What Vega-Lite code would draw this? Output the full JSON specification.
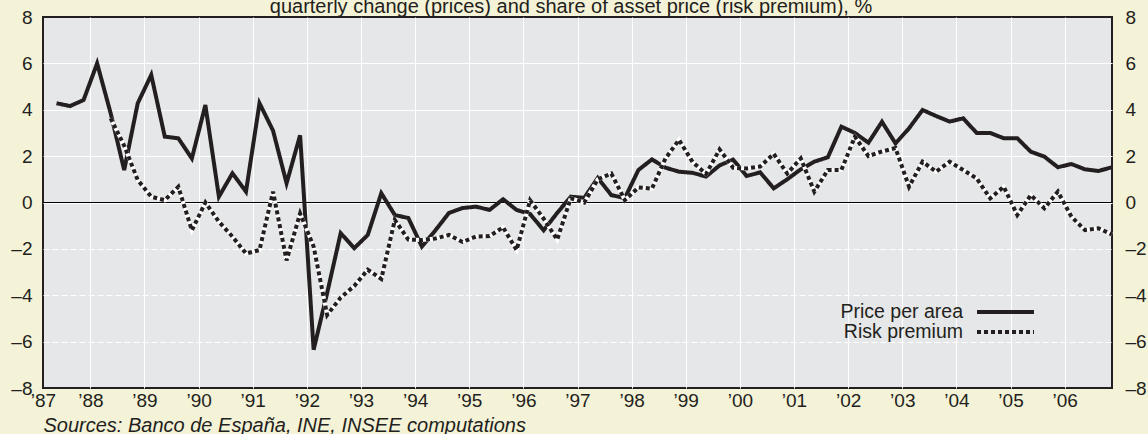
{
  "$schema": "https://vega.github.io/schema/vega-lite/v6.json",
  "width": 1069,
  "height": 371,
  "autosize": {"type": "none"},
  "padding": {"left": 43, "top": 17, "right": 36, "bottom": 46},
  "background": "#F4F2D7",
  "config": {
    "view": {"fill": "#E6E7E8", "stroke": "#231F20", "strokeWidth": 2},
    "font": "Liberation Sans",
    "axis": {"labelFont": "Liberation Sans", "labelColor": "#231F20", "labelFontSize": 19, "titleFont": "Liberation Sans", "titleColor": "#231F20"},
    "legend": {"labelFont": "Liberation Sans"}
  },
  "data": {
    "values": [
      {"t": 1987.375, "price": 4.28, "risk": null},
      {"t": 1987.625, "price": 4.16, "risk": null},
      {"t": 1987.875, "price": 4.42, "risk": null},
      {"t": 1988.125, "price": 6.0, "risk": null},
      {"t": 1988.375, "price": 3.85, "risk": 3.63},
      {"t": 1988.625, "price": 1.4, "risk": 2.45},
      {"t": 1988.875, "price": 4.28, "risk": 0.97},
      {"t": 1989.125, "price": 5.5, "risk": 0.25},
      {"t": 1989.375, "price": 2.84, "risk": 0.1},
      {"t": 1989.625, "price": 2.77, "risk": 0.68},
      {"t": 1989.875, "price": 1.9, "risk": -1.2},
      {"t": 1990.125, "price": 4.2, "risk": 0.0},
      {"t": 1990.375, "price": 0.25, "risk": -0.83},
      {"t": 1990.625, "price": 1.26, "risk": -1.47},
      {"t": 1990.875, "price": 0.47, "risk": -2.2},
      {"t": 1991.125, "price": 4.28, "risk": -2.05},
      {"t": 1991.375, "price": 3.1, "risk": 0.47},
      {"t": 1991.625, "price": 0.83, "risk": -2.5},
      {"t": 1991.875, "price": 2.9, "risk": -0.47},
      {"t": 1992.125, "price": -6.35, "risk": -1.9},
      {"t": 1992.375, "price": -3.9, "risk": -4.85},
      {"t": 1992.625, "price": -1.32, "risk": -4.1},
      {"t": 1992.875, "price": -1.97, "risk": -3.6},
      {"t": 1993.125, "price": -1.4, "risk": -2.9},
      {"t": 1993.375, "price": 0.4, "risk": -3.3},
      {"t": 1993.625, "price": -0.54, "risk": -0.75},
      {"t": 1993.875, "price": -0.67, "risk": -1.6},
      {"t": 1994.125, "price": -1.9, "risk": -1.62},
      {"t": 1994.375, "price": -1.2, "risk": -1.55},
      {"t": 1994.625, "price": -0.45, "risk": -1.4},
      {"t": 1994.875, "price": -0.24, "risk": -1.7},
      {"t": 1995.125, "price": -0.18, "risk": -1.47},
      {"t": 1995.375, "price": -0.32, "risk": -1.45},
      {"t": 1995.625, "price": 0.14, "risk": -1.07},
      {"t": 1995.875, "price": -0.32, "risk": -2.05},
      {"t": 1996.125, "price": -0.5, "risk": 0.1},
      {"t": 1996.375, "price": -1.2, "risk": -0.7},
      {"t": 1996.625, "price": -0.45, "risk": -1.6},
      {"t": 1996.875, "price": 0.25, "risk": 0.18},
      {"t": 1997.125, "price": 0.2, "risk": 0.0},
      {"t": 1997.375, "price": 1.06, "risk": 1.0},
      {"t": 1997.625, "price": 0.32, "risk": 1.25},
      {"t": 1997.875, "price": 0.19, "risk": 0.1},
      {"t": 1998.125, "price": 1.4, "risk": 0.65},
      {"t": 1998.375, "price": 1.86, "risk": 0.6},
      {"t": 1998.625, "price": 1.5, "risk": 1.9},
      {"t": 1998.875, "price": 1.33, "risk": 2.7},
      {"t": 1999.125, "price": 1.28, "risk": 1.75},
      {"t": 1999.375, "price": 1.12, "risk": 1.23},
      {"t": 1999.625, "price": 1.6, "risk": 2.29},
      {"t": 1999.875, "price": 1.85, "risk": 1.5},
      {"t": 2000.125, "price": 1.14, "risk": 1.47},
      {"t": 2000.375, "price": 1.3, "risk": 1.55},
      {"t": 2000.625, "price": 0.61, "risk": 2.1},
      {"t": 2000.875, "price": 1.0, "risk": 1.25},
      {"t": 2001.125, "price": 1.43, "risk": 1.9},
      {"t": 2001.375, "price": 1.76, "risk": 0.47},
      {"t": 2001.625, "price": 1.95, "risk": 1.4},
      {"t": 2001.875, "price": 3.27, "risk": 1.4},
      {"t": 2002.125, "price": 3.0, "risk": 2.84},
      {"t": 2002.375, "price": 2.58, "risk": 2.0},
      {"t": 2002.625, "price": 3.48, "risk": 2.2},
      {"t": 2002.875, "price": 2.55, "risk": 2.35},
      {"t": 2003.125, "price": 3.2, "risk": 0.68},
      {"t": 2003.375, "price": 3.99, "risk": 1.76},
      {"t": 2003.625, "price": 3.73, "risk": 1.33},
      {"t": 2003.875, "price": 3.49, "risk": 1.76},
      {"t": 2004.125, "price": 3.63, "risk": 1.4},
      {"t": 2004.375, "price": 3.0, "risk": 1.04},
      {"t": 2004.625, "price": 3.0, "risk": 0.18},
      {"t": 2004.875, "price": 2.77, "risk": 0.68},
      {"t": 2005.125, "price": 2.77, "risk": -0.54},
      {"t": 2005.375, "price": 2.19, "risk": 0.32},
      {"t": 2005.625, "price": 1.98, "risk": -0.25},
      {"t": 2005.875, "price": 1.52, "risk": 0.47},
      {"t": 2006.125, "price": 1.66, "risk": -0.61},
      {"t": 2006.375, "price": 1.43, "risk": -1.19},
      {"t": 2006.625, "price": 1.36, "risk": -1.11},
      {"t": 2006.875, "price": 1.52, "risk": -1.38}
    ]
  },
  "transform": [{"fold": ["price", "risk"], "as": ["series", "value"]}],
  "resolve": {"scale": {"y": "independent", "x": "independent"}},
  "layer": [
    {
      "data": {"values": [{"z": 0}]},
      "mark": {"type": "rule", "color": "#000000", "strokeWidth": 1.2},
      "encoding": {
        "y": {"field": "z", "type": "quantitative", "scale": {"domain": [-8, 8], "nice": false, "zero": false}, "axis": null}
      }
    },
    {
      "transform": [{"filter": "datum.series == 'price'"}],
      "mark": {"type": "line", "color": "#231F20", "strokeWidth": 4, "strokeCap": "butt", "strokeJoin": "miter"},
      "encoding": {
        "x": {
          "field": "t", "type": "quantitative",
          "scale": {"domain": [1987.125, 2006.875], "nice": false, "zero": false},
          "axis": {
            "orient": "bottom",
            "values": [1987.125, 1988, 1989, 1990, 1991, 1992, 1993, 1994, 1995, 1996, 1997, 1998, 1999, 2000, 2001, 2002, 2003, 2004, 2005, 2006],
            "labelExpr": "datum.value < 1988 ? '’87' : '’' + substring(toString(datum.value), 2, 4)",
            "ticks": false, "domain": false, "grid": true, "gridColor": "#FFFFFF", "gridWidth": 1,
            "gridOpacity": {"condition": {"test": "datum.value < 1988", "value": 0}, "value": 1},
            "labelFlush": false, "labelOverlap": false, "labelPadding": 3, "labelFontSize": 19,
            "title": "Sources: Banco de España, INE, INSEE computations",
            "titleFontStyle": "italic", "titleFontWeight": "normal", "titleFontSize": 20,
            "titleX": 0, "titleY": 43, "titleAlign": "left", "titleAnchor": "start", "titleBaseline": "alphabetic"
          }
        },
        "y": {
          "field": "value", "type": "quantitative",
          "scale": {"domain": [-8, 8], "nice": false, "zero": false},
          "axis": {
            "orient": "left", "values": [-8, -6, -4, -2, 0, 2, 4, 6, 8],
            "labelExpr": "datum.value < 0 ? '–' + abs(datum.value) : datum.label",
            "ticks": false, "domain": false, "grid": true, "gridColor": "#FFFFFF", "gridWidth": 1,
            "gridDash": {"condition": {"test": "datum.value < 0", "value": [6, 3]}, "value": []},
            "gridOpacity": {"condition": {"test": "abs(datum.value) == 8", "value": 0}, "value": 1},
            "labelPadding": 11, "labelFontSize": 19, "title": null
          }
        },
        "strokeDash": {
          "field": "series", "type": "nominal",
          "scale": {"domain": ["price", "risk"], "range": [[1, 0], [4, 3]]},
          "legend": {
            "orient": "none", "legendX": 932, "legendY": 285, "title": null,
            "symbolType": "M-1,0H6.125", "symbolSize": 256, "symbolStrokeWidth": 4, "symbolStrokeColor": "#231F20",
            "rowPadding": 0, "padding": 0,
            "labelAlign": "right", "labelOffset": -32, "labelFontSize": 19.5, "labelColor": "#231F20",
            "labelExpr": "datum.label == 'price' ? 'Price per area' : 'Risk premium'"
          }
        }
      }
    },
    {
      "transform": [{"filter": "datum.series == 'risk'"}],
      "mark": {"type": "line", "color": "#FFFFFF", "strokeWidth": 4, "strokeCap": "butt", "strokeJoin": "miter"},
      "encoding": {
        "x": {
          "field": "t", "type": "quantitative",
          "scale": {"domain": [1987.125, 2006.875], "nice": false, "zero": false},
          "axis": {
            "orient": "top", "labels": false, "ticks": false, "domain": false, "grid": false,
            "title": "quarterly change (prices) and share of asset price (risk premium), %",
            "titleFontSize": 20, "titleFontWeight": "normal", "titleColor": "#231F20",
            "titleX": 527.5, "titleY": -4.5, "titleAlign": "center", "titleAnchor": "start", "titleBaseline": "alphabetic"
          }
        },
        "y": {
          "field": "value", "type": "quantitative",
          "scale": {"domain": [-8, 8], "nice": false, "zero": false},
          "axis": {
            "orient": "right", "values": [-8, -6, -4, -2, 0, 2, 4, 6, 8],
            "labelExpr": "datum.value < 0 ? '–' + abs(datum.value) : datum.label",
            "ticks": false, "domain": false, "grid": false,
            "labelPadding": 13, "labelFontSize": 19, "title": null
          }
        }
      }
    },
    {
      "transform": [{"filter": "datum.series == 'risk'"}],
      "mark": {"type": "line", "color": "#231F20", "strokeWidth": 4, "strokeCap": "butt", "strokeJoin": "miter"},
      "encoding": {
        "x": {"field": "t", "type": "quantitative", "scale": {"domain": [1987.125, 2006.875], "nice": false, "zero": false}, "axis": null},
        "y": {"field": "value", "type": "quantitative", "scale": {"domain": [-8, 8], "nice": false, "zero": false}, "axis": null},
        "strokeDash": {"field": "series", "type": "nominal", "scale": {"domain": ["price", "risk"], "range": [[1, 0], [4, 3]]}}
      }
    }
  ]
}
